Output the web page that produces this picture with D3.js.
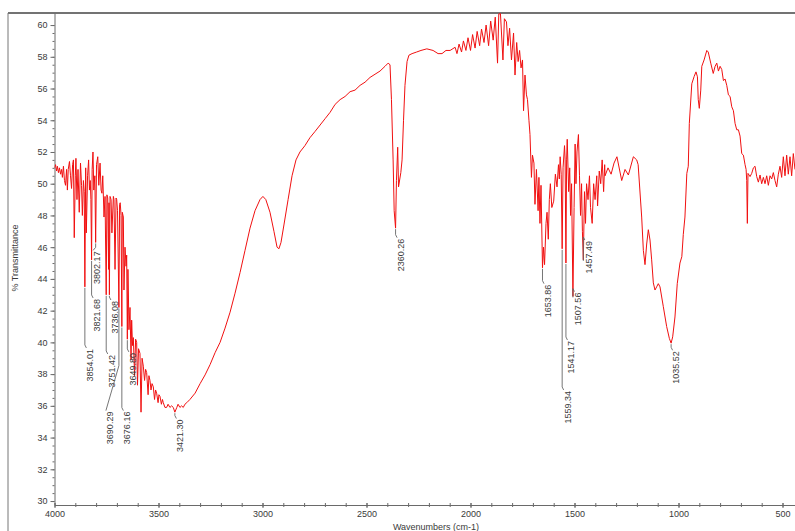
<!DOCTYPE html>
<html>
<head>
<meta charset="utf-8">
<script src="https://cdn.jsdelivr.net/npm/d3@7"></script>
<style>
  body { margin: 0; background: #fff; }
  svg { display: block; }
  text { font-family: "Liberation Sans", Arial, sans-serif; }
</style>
</head>
<body>
<svg id="chart" width="795" height="531"></svg>
<script>
// IR spectrum, % transmittance against wavenumber (cm-1), split by region.
const spectrumOH = [
  [4000,51.0],[3995,51.2],[3990,50.8],[3986,51.1],[3981,50.7],[3976,51.0],[3971,50.6],[3966,50.9],
  [3962,50.4],[3957,51.1],[3952,50.2],[3947,49.9],[3942,50.9],[3938,49.6],[3934,50.9],[3928,51.4],
  [3923,50.5],[3918,49.7],[3913,51.2],[3909,51.5],[3905,46.6],[3900,50.5],[3897,51.6],[3892,49.0],
  [3887,50.9],[3881,48.2],[3875,51.3],[3870,49.9],[3866,48.0],[3861,50.2],[3857,49.5],[3850,51.0],
  [3847,46.9],[3841,50.5],[3836,51.5],[3832,49.6],[3828,50.2],[3825,49.0],[3819,50.9],[3815,52.0],
  [3811,49.6],[3806,50.5],[3798,51.2],[3792,51.7],[3787,49.9],[3781,51.3],[3776,49.6],[3772,49.4],
  [3768,50.5],[3762,47.9],[3757,49.2],[3748,49.3],[3744,49.1],[3740,44.6],[3738,48.8],[3733,49.2],
  [3728,49.0],[3724,46.9],[3717,49.2],[3714,49.0],[3709,44.6],[3704,49.1],[3701,49.0],[3697,48.3],
  [3687,48.7],[3684,48.8],[3680,48.0],[3674,48.2],[3669,47.9],[3666,43.3],[3661,46.0],[3656,44.8],
  [3653,45.5],[3647,44.6],[3645,43.3],[3642,40.8],[3637,42.2],[3632,38.9],[3629,41.4],[3625,39.8],
  [3621,40.3],[3615,37.9],[3610,40.2],[3605,40.0],[3601,37.3],[3596,39.6],[3589,39.3],[3584,35.6],
  [3579,39.0],[3573,38.5],[3567,37.6],[3562,38.3],[3557,38.1],[3550,36.7],[3546,37.9],[3541,37.6],
  [3536,37.0],[3531,37.4],[3525,37.2],[3519,36.4],[3514,37.0],[3509,36.8],[3502,36.2],[3498,36.7],
  [3493,36.6],[3486,36.1],[3481,36.4],[3477,36.2],[3469,35.9],[3461,35.9],[3454,36.1],[3445,35.9],
  [3437,36.0],[3429,35.9],[3412,35.9],[3406,36.1],[3397,35.9],[3389,36.0],[3381,35.9],[3373,36.1],
  [3364,36.2],[3349,36.4],[3324,36.8],[3300,37.4]
];
const spectrumCH = [
  [3276,37.95],[3252,38.6],[3228,39.35],[3204,40.0],[3180,40.9],[3156,41.9],[3132,43.1],[3108,44.4],
  [3084,45.8],[3060,47.2],[3036,48.3],[3012,49.0],[2998,49.2],[2984,49.0],[2964,48.2],[2945,47.0],
  [2930,46.0],[2921,45.9],[2911,46.3],[2897,47.4],[2877,49.0],[2858,50.5],[2839,51.5],[2820,52.0],
  [2796,52.4],[2772,52.9],[2747,53.3],[2723,53.7],[2699,54.1],[2675,54.5],[2651,55.0],[2627,55.3],
  [2603,55.5],[2579,55.8],[2555,55.9],[2531,56.2],[2507,56.4],[2483,56.7],[2459,56.9],[2435,57.1],
  [2411,57.4],[2396,57.6],[2387,57.5],[2380,55.3],[2372,51.5],[2367,48.3],[2356,50.2],[2350,52.3],
  [2346,49.8],[2335,50.7],[2329,51.5],[2322,54.0],[2315,56.2],[2305,57.7],[2296,58.1],[2281,58.2],
  [2259,58.3],[2238,58.4],[2210,58.5],[2180,58.4],[2156,58.2],[2137,58.2],[2118,58.4],[2098,58.4]
];
const spectrumCarbonyl = [
  [2074,58.6],[2065,58.2],[2055,58.8],[2043,58.3],[2034,59.0],[2022,58.4],[2012,59.2],[2000,58.4],
  [1990,59.4],[1978,58.55],[1968,59.6],[1956,58.7],[1947,59.75],[1935,58.9],[1925,60.0],[1913,58.7],
  [1903,60.25],[1891,59.05],[1881,60.5],[1870,57.6],[1864,60.7],[1856,60.72],[1844,57.8],[1837,60.4],
  [1827,60.2],[1820,58.7],[1812,59.8],[1803,57.8],[1793,59.5],[1786,56.85],[1778,58.9],[1771,57.7],
  [1764,58.4],[1757,57.3],[1750,57.8],[1745,54.6],[1738,56.85],[1731,55.6],[1726,55.3],[1719,54.0],
  [1714,53.1],[1707,50.4],[1702,51.8],[1695,51.3],[1690,48.7],[1683,50.9],[1675,48.3],[1671,50.4],
  [1666,47.5],[1661,49.9],[1649,46.0],[1644,44.9],[1637,47.5],[1632,48.2],[1626,46.5],[1621,49.0],
  [1616,50.0],[1609,48.5],[1600,48.9],[1592,50.6],[1584,49.8],[1577,51.2],[1573,50.3],[1569,51.7],
  [1564,50.6],[1555,51.0],[1548,52.4],[1545,51.5],[1538,51.5],[1535,52.8],[1528,49.5],[1523,51.0],
  [1519,48.0],[1514,50.0],[1502,48.5],[1497,52.5],[1493,50.0],[1488,52.0],[1481,53.1],[1476,50.5],
  [1471,48.0],[1466,50.0],[1462,47.0],[1452,49.5],[1447,47.5],[1442,50.0],[1435,49.0],[1428,50.5],
  [1423,48.5],[1415,47.5],[1408,50.0],[1401,49.0],[1393,50.5],[1389,48.6],[1381,50.8],[1374,50.0],
  [1367,51.5],[1360,49.5],[1355,51.2]
];
const spectrumFingerprint = [
  [1353,50.5],[1339,51.0],[1324,50.6],[1310,51.3],[1296,51.7],[1273,50.2],[1257,50.9],[1241,50.55],
  [1217,51.7],[1201,51.5],[1194,51.2],[1177,47.9],[1169,45.8],[1161,44.9],[1153,46.2],[1145,47.1],
  [1137,46.45],[1129,45.2],[1121,43.75],[1113,43.3],[1105,43.5],[1097,43.7],[1089,43.5],[1073,42.25],
  [1057,41.0],[1044,40.25],[1028,40.35],[1017,41.6],[1006,43.7],[993,45.0],[984,45.4],[977,46.8],
  [969,47.9],[960,50.65],[953,51.1],[948,53.8],[936,56.3],[925,56.75],[916,57.05],[909,56.74],
  [905,55.3],[900,54.75],[893,55.9],[888,57.4],[877,57.8],[864,58.4],[857,58.3],[845,57.6],
  [833,56.95],[824,57.4],[816,57.6],[808,57.1],[800,57.4],[792,57.2],[784,56.5],[776,56.6],
  [768,56.2],[760,55.6],[752,55.5],[744,54.85],[736,54.6],[728,53.8],[720,53.4],[712,53.4],
  [704,53.0],[696,51.9],[688,51.8],[680,51.2],[675,50.9],[672,50.2],[669,47.5],[666,50.65],
  [656,50.45],[648,50.65],[640,51.0],[632,51.1],[624,50.45],[616,50.1],[608,50.55],[600,50.0],
  [592,50.4],[584,50.0],[576,50.5],[568,49.9],[560,50.5],[552,50.3],[544,50.7],[536,50.2],
  [528,49.8],[520,50.6],[512,51.1],[504,50.4],[496,51.7],[488,50.5],[480,51.8],[472,50.6],
  [464,51.7],[456,50.5],[448,51.9],[440,50.9]
];

// Labelled absorption minima.
const peakWavenumbers   = [3854.01,3821.68,3802.17,3751.42,3736.08,3690.29,3676.16,3649.80,
                           3421.30,2360.26,1653.86,1559.34,1541.17,1507.56,1457.49,1035.52];
const peakTransmittance = [43.5,45.2,46.3,43.0,43.0,42.2,41.0,40.2,
                           35.6,47.2,44.7,45.9,45.0,42.9,45.2,39.95];

const wavenumberTicks = [4000,3500,3000,2500,2000,1500,1000,500];
const transmittanceTicks = [30,32,34,36,38,40,42,44,46,48,50,52,54,56,58,60];

// Label placement: where the text begins (in % units), sideways shift and leader bend (px).
const labelTop   = [39.65,42.8,45.8,39.27,42.67,35.7,35.7,39.4,35.2,46.6,43.7,37.0,40.15,43.2,46.45,39.5];
const labelShift = [6,6,2,6,6,-8.5,6,6,6,6,6,6,6,6,6,6];
const labelBend  = [3,3,3,3,3,45,3,3,3,3,3,3,3,3,3,3];

const W = 795, H = 531;
const plotLeft = 54.5, plotTop = 13, plotBottom = 505;

const x = d3.scaleLinear().domain([4000, 400]).range([plotLeft, plotLeft + 3600 * 0.208]);
const y = d3.scaleLinear().domain([29.75, 60.76]).range([plotBottom, plotTop]);

const svg = d3.select("#chart");
svg.append("rect").attr("width", W).attr("height", H).attr("fill", "#fff");

// outer frame
svg.append("line").attr("x1", 8).attr("y1", plotTop).attr("x2", W).attr("y2", plotTop)
  .attr("stroke", "#444").attr("stroke-width", 1.4);
svg.append("line").attr("x1", 8).attr("y1", plotTop).attr("x2", 8).attr("y2", H)
  .attr("stroke", "#777").attr("stroke-width", 1);

svg.append("clipPath").attr("id", "plotClip")
  .append("rect").attr("x", plotLeft).attr("y", plotTop)
  .attr("width", W - plotLeft).attr("height", plotBottom - plotTop);

// axes
const axisColor = "#6a6a6a";
function styleAxis(g) {
  g.selectAll("path,line").attr("stroke", axisColor);
  g.selectAll("text").attr("fill", "#3a3a3a").attr("font-size", 9);
}
const yMinor = svg.append("g").attr("transform", `translate(${plotLeft},0)`)
  .call(d3.axisLeft(y).tickValues(d3.range(30, 60.01, 0.5)).tickSize(2).tickSizeOuter(0).tickFormat(""));
yMinor.select(".domain").remove();
styleAxis(yMinor);
const yMajor = svg.append("g").attr("transform", `translate(${plotLeft},0)`)
  .call(d3.axisLeft(y).tickValues(transmittanceTicks).tickSize(4).tickSizeOuter(0).tickPadding(3).tickFormat(d3.format("d")));
styleAxis(yMajor);

const xMinor = svg.append("g").attr("transform", `translate(0,${plotBottom})`)
  .call(d3.axisBottom(x).tickValues(d3.range(500, 4001, 100)).tickSize(2).tickSizeOuter(0).tickFormat(""));
xMinor.selectAll(".tick line").attr("y1", -2);
xMinor.select(".domain").remove();
styleAxis(xMinor);
const xMajor = svg.append("g").attr("transform", `translate(0,${plotBottom})`)
  .call(d3.axisBottom(x).tickValues(wavenumberTicks).tickSize(3).tickSizeOuter(0).tickPadding(3).tickFormat(d3.format("d")));
xMajor.selectAll(".tick line").attr("y1", -2);
styleAxis(xMajor);

// axis titles
svg.append("text").attr("x", 436).attr("y", 530).attr("text-anchor", "middle")
  .attr("font-size", 9).attr("fill", "#3a3a3a").text("Wavenumbers (cm-1)");
svg.append("text").attr("transform", "translate(16,258) rotate(-90)")
  .attr("text-anchor", "middle").attr("dominant-baseline", "middle")
  .attr("font-size", 9).attr("fill", "#3a3a3a").text("% Transmittance");

// full trace: regions joined, labelled minima inserted at their exact positions
const peaks = peakWavenumbers.map((w, i) => [w, peakTransmittance[i]]);
const trace = [...spectrumOH, ...spectrumCH, ...spectrumCarbonyl, ...spectrumFingerprint, ...peaks]
  .sort((a, b) => b[0] - a[0]);

svg.append("path")
  .datum(trace)
  .attr("clip-path", "url(#plotClip)")
  .attr("fill", "none")
  .attr("stroke", "#f01010")
  .attr("stroke-width", 1)
  .attr("stroke-linejoin", "round")
  .attr("d", d3.line().x(d => x(d[0])).y(d => y(d[1])));

// peak annotations
const ann = svg.append("g");
peaks.forEach(([w, t], i) => {
  const px = x(w), py = y(t);
  const ty = y(labelTop[i]);
  const tx = px + labelShift[i];
  ann.append("path")
    .attr("d", `M${px},${py + 1}L${px},${ty - labelBend[i]}L${tx - 4.5},${ty}`)
    .attr("fill", "none").attr("stroke", "#666").attr("stroke-width", 0.9);
  ann.append("text")
    .attr("transform", `translate(${tx},${ty + 1}) rotate(-90)`)
    .attr("text-anchor", "end").attr("dominant-baseline", "middle")
    .attr("font-size", 9).attr("fill", "#3a3a3a")
    .text(w.toFixed(2));
});
</script>
</body>
</html>
